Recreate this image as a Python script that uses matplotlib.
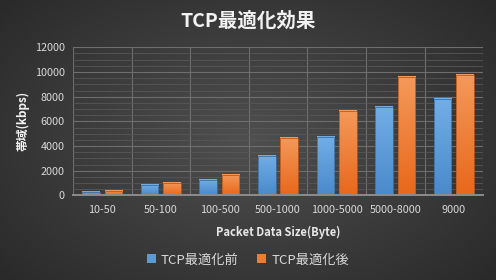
import matplotlib
matplotlib.use("Agg")
import matplotlib.pyplot as plt
from matplotlib.colors import to_rgb
from matplotlib.patches import Patch
import numpy as np

plt.rcParams['font.family'] = ['Noto Sans CJK JP', 'DejaVu Sans']

categories = ['10-50', '50-100', '100-500', '500-1000', '1000-5000', '5000-8000', '9000']
before = [290, 860, 1270, 3210, 4740, 7190, 7830]
after = [350, 1000, 1670, 4650, 6860, 9620, 9730]
series_names = ['TCP最適化前', 'TCP最適化後']

title = 'TCP最適化効果'
xlabel = 'Packet Data Size(Byte)'
ylabel = '帯域(kbps)'


def vgrad(top, bottom, n=64):
	"""vertical colour ramp, row 0 = top"""
	t = np.linspace(0, 1, n)[:, None]
	a, b = np.array(to_rgb(top)), np.array(to_rgb(bottom))
	return (a * (1 - t) + b * t)[:, None, :]


fig = plt.figure(figsize=(4.96, 2.80), dpi=100)

# radial dark background
bg = fig.add_axes([0, 0, 1, 1], zorder=-10)
Y, X = np.mgrid[0:1:140j, 0:1:248j]
r = np.sqrt(((X - 0.5) / 0.75) ** 2 + ((Y - 0.5) / 0.85) ** 2)
r = np.clip(r, 0, 1)
inner, outer = np.array(to_rgb('#4f4f4f')), np.array(to_rgb('#252525'))
img = inner * (1 - r[..., None]) + outer * r[..., None]
bg.imshow(img, extent=[0, 1, 0, 1], aspect='auto')
bg.axis('off')

ax = fig.add_axes([0.147, 0.302, 0.827, 0.529])
ax.patch.set_alpha(0)

x = np.arange(len(categories))
w = 0.30
off = 0.19
colors = [('#72aee6', '#4a8acb', '#3f6f9f'), ('#f4995a', '#e8681c', '#b85a20')]
for vals, sign, (ctop, cbot, edge) in zip([before, after], [-1, 1], colors):
	bars = ax.bar(x + sign * off, vals, width=w, facecolor='none',
				  edgecolor=edge, linewidth=0.6, zorder=3)
	for b in bars:
		x0, y0 = b.get_x(), b.get_y()
		ax.imshow(vgrad(ctop, cbot), extent=[x0, x0 + b.get_width(), y0, y0 + b.get_height()],
				  aspect='auto', zorder=2)

ax.set_xlim(-0.5, len(categories) - 0.5)
ax.set_ylim(0, 12000)
ax.set_yticks(np.arange(0, 12001, 2000))
ax.set_yticks(np.arange(0, 12001, 500), minor=True)
ax.set_xticks(x)
ax.set_xticks(np.arange(-0.5, len(categories), 1), minor=True)
ax.set_xticklabels(categories)

ax.yaxis.grid(True, which='major', color='#6e6e6e', linewidth=0.8)
ax.yaxis.grid(True, which='minor', color='#575757', linewidth=0.6)
ax.xaxis.grid(True, which='minor', color='#6e6e6e', linewidth=0.8)
ax.set_axisbelow(True)

ax.tick_params(which='both', length=0, colors='#d9d9d9', labelsize=7.8)
ax.tick_params(axis='x', pad=7)
ax.tick_params(axis='y', pad=6)
for s in ['top', 'right', 'left']:
	ax.spines[s].set_visible(False)
ax.spines['bottom'].set_color('#8c8c8c')
ax.spines['bottom'].set_linewidth(1.4)
ax.spines['bottom'].set_zorder(4)

ax.set_xlabel(xlabel, color='#e8e8e8', fontsize=8, fontweight='bold', labelpad=8)
ax.set_ylabel(ylabel, color='#f2f2f2', fontsize=8.5, fontweight='bold', labelpad=4)

fig.text(0.5, 0.925, title, ha='center', va='center', color='#f2f2f2',
		 fontsize=14, fontweight='bold')

handles = [Patch(facecolor='#5b9bd5'), Patch(facecolor='#ed7d31')]
fig.legend(handles, series_names, loc='center', bbox_to_anchor=(0.5, 0.072), ncol=2,
		   frameon=False, fontsize=9.5, labelcolor='#d9d9d9',
		   handlelength=0.7, handleheight=0.7, handletextpad=0.4, columnspacing=1.4)

fig.savefig('out.png', dpi=100)
